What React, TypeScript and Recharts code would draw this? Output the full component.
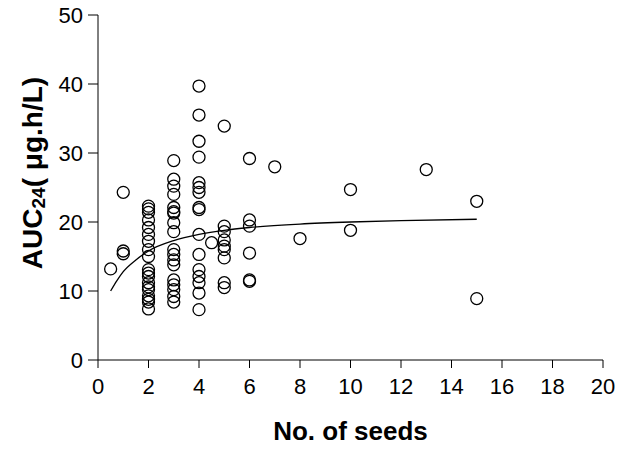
import { ComposedChart, Scatter, Line, XAxis, YAxis } from "recharts";

// AUC24 readings grouped by number of seeds
const seeds = [0.5, 1, 2, 3, 4, 4.5, 5, 6, 7, 8, 10, 13, 15];
const aucBySeeds: number[][] = [
  [13.2],
  [24.3, 15.8, 15.4],
  [22.3, 21.9, 21.4, 20.3, 19.2, 18.2, 17.2, 16.0, 15.0, 13.1, 12.6, 12.1, 11.2, 10.6, 10.2, 9.3, 8.8, 8.4, 7.4],
  [28.9, 26.2, 25.2, 24.0, 22.1, 21.5, 21.3, 19.9, 18.6, 16.0, 15.3, 14.5, 13.8, 11.6, 10.9, 10.2, 9.2, 8.4],
  [39.7, 35.5, 31.7, 29.4, 25.7, 25.0, 24.3, 22.1, 21.8, 18.2, 15.3, 13.1, 12.1, 11.2, 9.7, 7.3],
  [17.0],
  [33.9, 19.4, 18.6, 17.4, 16.5, 16.0, 14.8, 11.2, 10.5],
  [29.2, 20.3, 19.4, 15.5, 11.6, 11.4],
  [28.0],
  [17.6],
  [24.7, 18.8],
  [27.6],
  [23.0, 8.9],
];

// fitted curve
const fitX = [0.5, 0.75, 1, 1.5, 2, 3, 4, 5, 6, 8, 10, 12, 15];
const fitY = [10.0, 11.5, 12.8, 14.5, 15.8, 17.3, 18.2, 18.8, 19.2, 19.7, 20.0, 20.2, 20.4];

const xTicks = [0, 2, 4, 6, 8, 10, 12, 14, 16, 18, 20];
const yTicks = [0, 10, 20, 30, 40, 50];

const points = seeds.flatMap((s, i) => aucBySeeds[i].map((v) => ({ x: s, y: v })));
const fit = fitX.map((x, i) => ({ x, y: fitY[i] }));

const font = "'Liberation Sans', Arial, sans-serif";

const OpenCircle = (props: any) => (
  <circle cx={props.cx} cy={props.cy} r={6} fill="none" stroke="#000" strokeWidth={1.3} />
);

const XTick = (props: any) => (
  <text x={props.x} y={props.y + 24} textAnchor="middle" fontFamily={font} fontSize={22} fill="#000">
    {props.payload.value}
  </text>
);

const YTick = (props: any) => (
  <text x={props.x} y={props.y + 8} textAnchor="end" fontFamily={font} fontSize={22} fill="#000">
    {props.payload.value}
  </text>
);

const YLabel = () => (
  <text
    x={32}
    y={173}
    transform="rotate(-90 32 173)"
    textAnchor="middle"
    dominantBaseline="central"
    fontFamily={font}
    fontWeight="bold"
    fontSize={28}
    fill="#000"
  >
    AUC<tspan fontSize={19} dy={6}>24</tspan>
    <tspan dy={-6}>( μg.h/L)</tspan>
  </text>
);

export default function App() {
  return (
    <div style={{ margin: -8 }}>
      <ComposedChart
        width={626}
        height={454}
        margin={{ top: 15, right: 23, bottom: 34, left: 38 }}
        style={{ fontFamily: font }}
      >
        <XAxis
          type="number"
          dataKey="x"
          domain={[0, 20]}
          ticks={xTicks}
          allowDataOverflow
          stroke="#000"
          tick={<XTick />}
          tickSize={8}
          tickMargin={2}
          height={60}
          label={{
            value: "No. of seeds",
            position: "insideBottom",
            offset: -20,
            fill: "#000",
            fontSize: 26,
            fontWeight: "bold",
          }}
        />
        <YAxis
          type="number"
          dataKey="y"
          domain={[0, 50]}
          ticks={yTicks}
          allowDataOverflow
          stroke="#000"
          tick={<YTick />}
          tickSize={10}
          tickMargin={5}
          width={60}
          label={{ content: () => <YLabel /> }}
        />
        <Scatter data={points} shape={OpenCircle} isAnimationActive={false} />
        <Line
          data={fit}
          dataKey="y"
          type="monotone"
          stroke="#000"
          strokeWidth={1.3}
          dot={false}
          activeDot={false}
          isAnimationActive={false}
        />
      </ComposedChart>
    </div>
  );
}
